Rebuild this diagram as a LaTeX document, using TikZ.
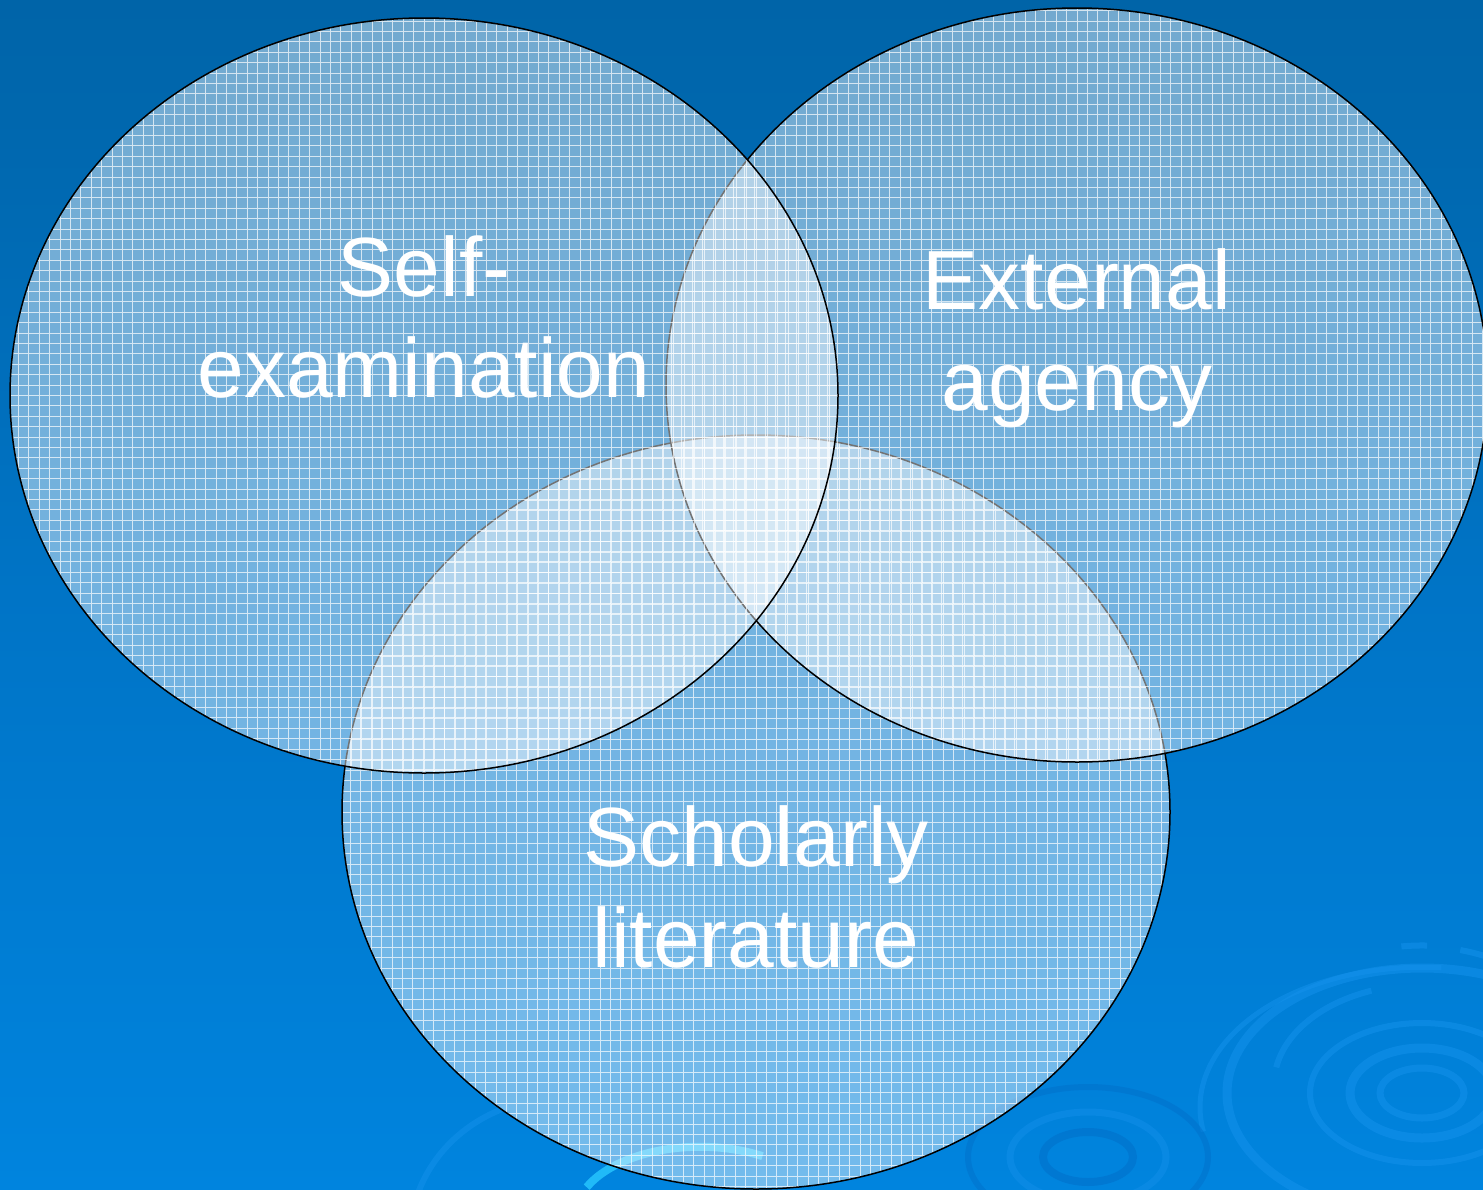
\documentclass[tikz,border=0pt]{standalone}
\usepackage{fontspec}
\setmainfont{Liberation Sans}
\usetikzlibrary{shapes.geometric}
\definecolor{bgtop}{RGB}{0,100,168}
\definecolor{bgmid}{RGB}{0,116,198}
\definecolor{bgbot}{RGB}{0,132,222}
\definecolor{ripple}{RGB}{20,145,235}
\definecolor{rippledark}{RGB}{0,110,200}
\definecolor{glow}{RGB}{40,200,255}
\tikzset{
  venn/.style={ellipse, inner sep=0pt, outer sep=0pt, draw=black, line width=1.5pt,
    fill=white, fill opacity=0.45, draw opacity=1,
    path picture={
      \draw[white, line width=1pt, opacity=0.7, step=10.4pt]
        (path picture bounding box.south west) grid (path picture bounding box.north east);
    }},
  vlabel/.style={text=white, align=center, anchor=base, inner sep=0pt,
    font=\fontsize{84}{101}\selectfont},
  ring/.style={draw=ripple, line width=#1, opacity=0.55},
}
\begin{document}
\begin{tikzpicture}[x=1pt, y=-1pt]
  % backdrop
  \useasboundingbox (0,0) rectangle (1483,1189);
  \shade[top color=bgtop, bottom color=bgbot, middle color=bgmid] (0,0) rectangle (1483,1189);

  % ripple decoration, bottom right
  \begin{scope}
    \clip (0,0) rectangle (1483,1189);
    \draw[ring=7pt] (1422,1093) ellipse [x radius=42, y radius=25];
    \draw[ring=9pt] (1422,1093) ellipse [x radius=72, y radius=45];
    \draw[ring=6pt] (1422,1093) ellipse [x radius=112, y radius=70];
    \draw[ring=6pt] (1422,1093) ++(190:148) arc [start angle=190, end angle=250, x radius=148, y radius=100];
    \draw[ring=6pt] (1422,1093) ++(262:148) arc [start angle=262, end angle=272, x radius=148, y radius=100];
    \draw[ring=6pt] (1422,1093) ++(285:148) arc [start angle=285, end angle=340, x radius=148, y radius=100];
    \draw[ring=9pt] (1422,1093) ellipse [x radius=195, y radius=125];
    \draw[ring=5pt] (1422,1093) ++(170:222) arc [start angle=170, end angle=275, x radius=222, y radius=140];
    \draw[ring=5pt] (1422,1093) ++(290:222) arc [start angle=290, end angle=330, x radius=222, y radius=140];
    % smaller ripple near the bottom edge
    \draw[draw=rippledark, line width=8pt, opacity=0.5] (1088,1157) ellipse [x radius=45, y radius=25];
    \draw[draw=ripple, line width=7pt, opacity=0.45] (1088,1157) ellipse [x radius=78, y radius=45];
    \draw[draw=rippledark, line width=6pt, opacity=0.45] (1088,1157) ellipse [x radius=120, y radius=70];
    % glow arcs at the bottom centre
    \draw[draw=glow, line width=8pt, opacity=0.8] (700,1240) ++(205:125) arc [start angle=205, end angle=300, x radius=125, y radius=70];
    \draw[draw=ripple, line width=6pt, opacity=0.5] (560,1240) ++(190:150) arc [start angle=190, end angle=250, x radius=150, y radius=140];
  \end{scope}

  % the three sets, lowest layer first
  \node[venn, minimum width=828pt, minimum height=754pt] (scholarly) at (756,812) {};
  \node[venn, minimum width=822pt, minimum height=754pt] (external)  at (1077,385) {};
  \node[venn, minimum width=828pt, minimum height=755pt] (self)      at (424,395.5) {};

  % labels (anchored on the baseline of the last line)
  \node[vlabel] (selflabel)      at (424,397) {Self-\\examination};
  \node[vlabel] (externallabel)  at (1077,410) {External\\agency};
  \node[vlabel] (scholarlylabel) at (756,967) {Scholarly\\literature};
\end{tikzpicture}
\end{document}
